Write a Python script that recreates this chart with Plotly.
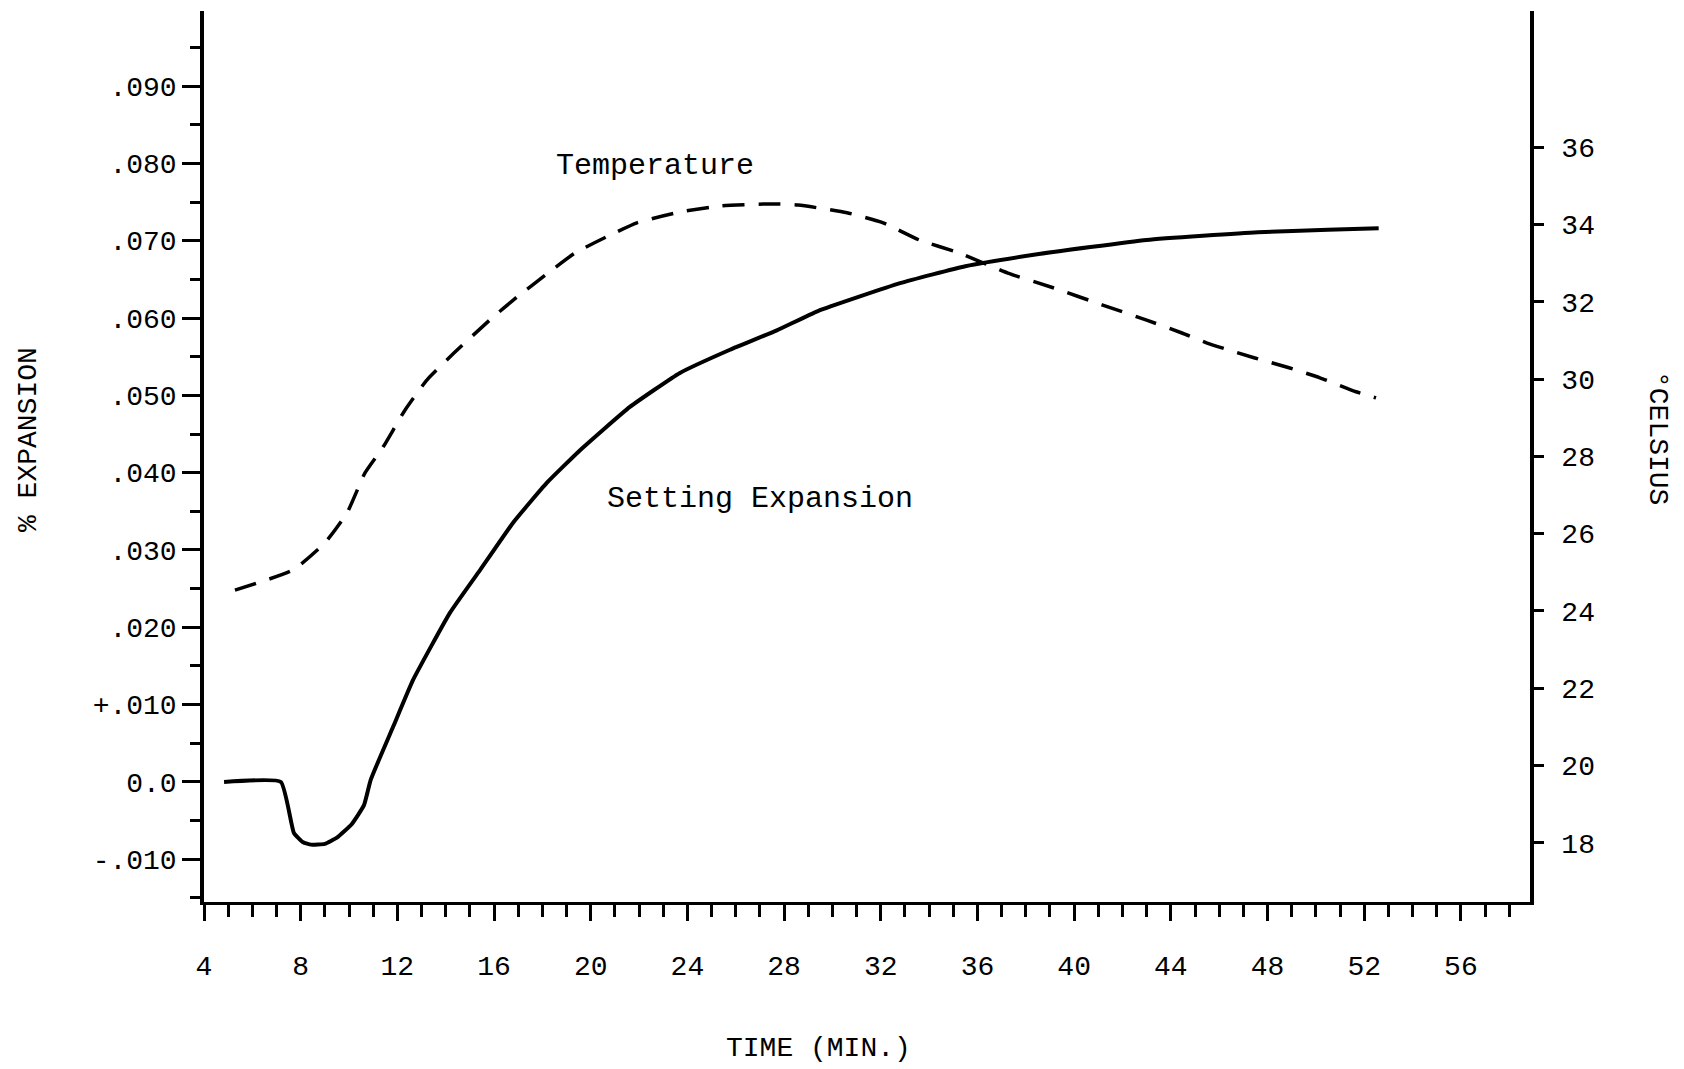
import plotly.graph_objects as go

# Setting expansion (solid) — time in minutes, % expansion
exp_time = [4.83, 7.18, 7.72, 8.1, 8.43, 9.0, 9.5, 10.1, 10.62, 10.9, 11.82, 12.65, 14.18, 15.42,
            16.78, 18.19, 19.56, 21.62, 23.69, 25.76, 27.7, 29.4, 32.8, 35.5, 38.4, 43.0, 47.6,
            50.5, 52.6]
exp_vals = [0.0, 0.0, -0.0066, -0.0078, -0.0081, -0.0080, -0.0072, -0.0055, -0.0030, 0.0003,
            0.0071, 0.0132, 0.0219, 0.0274, 0.0335, 0.0387, 0.0429, 0.0485, 0.0529, 0.0559,
            0.0584, 0.0609, 0.0645, 0.0667, 0.0682, 0.0701, 0.0711, 0.0714, 0.0716]

# Temperature (dashed) — degrees Celsius
temp_time = [5.28, 7.68, 9.0, 9.92, 10.66, 11.41, 12.32, 13.23, 14.34, 15.83, 16.95, 18.23, 19.35,
             20.63, 21.91, 23.78, 25.43, 27.46, 28.58, 30.6, 32.1, 33.58, 35.24, 37.26, 39.13,
             41.15, 42.97, 44.46, 45.5, 47.44, 48.89, 50.17, 51.66, 52.49]
temp_vals = [24.54, 25.06, 25.76, 26.54, 27.57, 28.24, 29.2, 29.98, 30.67, 31.53, 32.12, 32.74,
             33.26, 33.67, 34.04, 34.33, 34.48, 34.53, 34.5, 34.3, 34.04, 33.6, 33.26, 32.74,
             32.36, 31.92, 31.53, 31.19, 30.93, 30.55, 30.29, 30.03, 29.67, 29.51]

x_ticks = [4, 8, 12, 16, 20, 24, 28, 32, 36, 40, 44, 48, 52, 56]
y_ticks = [-0.01, 0.0, 0.01, 0.02, 0.03, 0.04, 0.05, 0.06, 0.07, 0.08, 0.09]
y_ticktext = ["-.010", "0.0", "+.010", ".020", ".030", ".040", ".050", ".060", ".070", ".080", ".090"]
t_ticks = [18, 20, 22, 24, 26, 28, 30, 32, 34, 36]

FONT = "Liberation Mono"

L, R, T, B = 196, 162, 3, 175
W, H = 1684, 1069
PW, PH = W - L - R, H - T - B

fig = go.Figure()
fig.add_trace(go.Scatter(x=exp_time, y=exp_vals, mode="lines",
                         line=dict(color="black", width=4, shape="spline", smoothing=0.4),
                         name="Setting Expansion", showlegend=False))
fig.add_trace(go.Scatter(x=temp_time, y=temp_vals, mode="lines", yaxis="y2",
                         line=dict(color="black", width=3.5, dash="22px,14px", shape="spline", smoothing=0.5),
                         name="Temperature", showlegend=False))

fig.update_layout(
    width=W, height=H,
    paper_bgcolor="white", plot_bgcolor="white",
    margin=dict(l=L, r=R, t=T, b=B),
    font=dict(family=FONT, size=28, color="black"),
    xaxis=dict(range=[4, 58.86], tickmode="array", tickvals=x_ticks, showgrid=False, zeroline=False,
               showline=True, linecolor="black", linewidth=3, ticks="outside", ticklen=16, tickwidth=3,
               tickcolor="black", ticklabelstandoff=20,
               minor=dict(dtick=1, tick0=4, ticks="outside", ticklen=12, tickwidth=2.5, tickcolor="black"),
               tickfont=dict(family=FONT, size=28)),
    yaxis=dict(range=[-0.01552, 0.0997], tickmode="array", tickvals=y_ticks, ticktext=y_ticktext,
               showgrid=False, zeroline=False, showline=True, linecolor="black", linewidth=3.5,
               ticks="outside", ticklen=18, tickwidth=2.5, tickcolor="black",
               minor=dict(dtick=0.005, tick0=0, ticks="outside", ticklen=10, tickwidth=2.5, tickcolor="black"),
               tickfont=dict(family=FONT, size=28)),
    yaxis2=dict(range=[16.47, 39.52], overlaying="y", side="right", tickmode="array", tickvals=t_ticks,
                showgrid=False, zeroline=False, showline=True, linecolor="black", linewidth=3.5,
                ticks="outside", ticklen=10, tickwidth=2.5, tickcolor="black", ticklabelstandoff=12,
                tickfont=dict(family=FONT, size=28)),
    annotations=[
        dict(text="Temperature", x=22.66, y=0.0797, xref="x", yref="y", showarrow=False,
             font=dict(family=FONT, size=30), xanchor="center", yanchor="middle"),
        dict(text="Setting Expansion", x=27.0, y=0.0366, xref="x", yref="y", showarrow=False,
             font=dict(family=FONT, size=30), xanchor="center", yanchor="middle"),
        dict(text="% EXPANSION", x=(20 - L) / PW, y=(H - B - 432) / PH, xref="paper", yref="paper",
             xanchor="center", yanchor="middle", showarrow=False, textangle=-90,
             font=dict(family=FONT, size=28)),
        dict(text="°CELSIUS", x=(1650 - L) / PW, y=(H - B - 430) / PH, xref="paper", yref="paper",
             showarrow=False, textangle=90, font=dict(family=FONT, size=28),
             xanchor="center", yanchor="middle"),
        dict(text="TIME (MIN.)", x=(810 - L) / PW, y=(H - B - 1040) / PH, xref="paper", yref="paper",
             showarrow=False, font=dict(family=FONT, size=28), xanchor="center", yanchor="middle"),
    ],
)

fig.write_html("out.html")
